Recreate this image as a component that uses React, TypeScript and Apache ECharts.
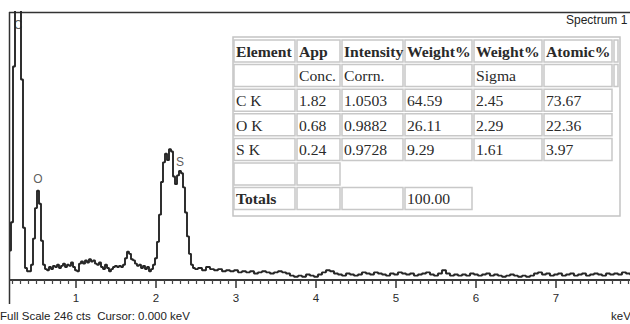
import React, { useEffect, useRef } from "react";
import * as echarts from "echarts";

// ---- spectrum data (counts per channel) ----
const FINE_START_KEV = 0.175;
const FINE_STEP_KEV = 0.025;
const fineCounts = [
  27, 53, 196, 450, 560, 420, 184, 48, 11, 8, 8, 14, 38, 66, 82, 70, 36, 14,
  10, 9, 12, 10, 13, 12, 14, 11, 13, 15, 12, 14, 13, 16, 12, 9, 8, 15, 17, 15, 18, 16, 19, 17, 18, 15, 14, 16, 12, 10, 14, 11, 8, 10, 12, 13, 12, 13, 12, 14, 20, 26, 24, 19, 18, 15, 13, 14, 11, 13, 10, 12, 8, 10, 14,
  20, 35, 60, 90, 108, 116, 110, 120, 118, 95, 88, 96, 100, 98, 85, 62, 40, 24, 14, 11, 10,
];
const COARSE_START_KEV = 2.55;
const COARSE_STEP_KEV = 0.05;
const coarseCounts = [
  11, 9, 12, 10, 9, 10, 8, 9, 8, 9, 7, 8, 7, 8, 6, 7, 8, 7, 6, 7, 8, 7, 6, 4, 3,
  4, 3, 5, 4, 3, 5, 7, 9, 8, 6, 5, 4, 6, 5, 4, 5, 7, 6, 5, 7, 6, 5, 4, 6, 5,
  7, 6, 5, 6, 4, 5, 6, 7, 5, 4, 6, 9, 6, 4, 5, 4, 5, 4, 6, 5, 4, 5, 6, 4, 5,
  4, 3, 4, 5, 4, 3, 4, 3, 4, 6, 7, 5, 6, 4, 5, 6, 4, 5, 6, 4, 5, 6, 4, 5, 6,
  5, 4, 6, 5, 6, 5, 7, 6, 5,
];

const X_MIN = 0.175;
const X_MAX = 7.925;
const FULL_SCALE = 246;
const majorTicks = [1, 2, 3, 4, 5, 6, 7];

const peakLabels = [
  { name: "C", keV: 0.275, cts: 234 },
  { name: "O", keV: 0.525, cts: 93 },
  { name: "S", keV: 2.3, cts: 108 },
];

// ---- quantification table ----
const headerRow1 = ["Element", "App", "Intensity", "Weight%", "Weight%", "Atomic%"];
const headerRow2 = ["", "Conc.", "Corrn.", "", "Sigma", ""];
const elementRows = [
  ["C K", "1.82", "1.0503", "64.59", "2.45", "73.67"],
  ["O K", "0.68", "0.9882", "26.11", "2.29", "22.36"],
  ["S K", "0.24", "0.9728", "9.29", "1.61", "3.97"],
];
const blankRow = ["", ""];
const totalsRow = ["Totals", "", "", "100.00"];

const footerText = "Full Scale 246 cts  Cursor: 0.000 keV";
const unitText = "keV";
const titleText = "Spectrum 1";

const SANS = '"Liberation Sans", Arial, sans-serif';
const SERIF = '"Liberation Serif", "Times New Roman", serif';

function buildTable(): any[] {
  const colX = [234, 297, 342, 405, 474, 544];
  const colW = [61, 43, 61, 67, 68, 68];
  const rowY0 = 40;
  const pitch = 24.6;
  const cellH = 22;
  const els: any[] = [];
  els.push({
    type: "rect",
    shape: { x: 233, y: 37, width: 387, height: 179 },
    style: { fill: "#fff", stroke: "#c4c4c4", lineWidth: 1.5 },
  });
  const rows: { cells: string[]; bold: boolean; sliver: boolean }[] = [
    { cells: headerRow1, bold: true, sliver: true },
    { cells: headerRow2, bold: false, sliver: true },
    ...elementRows.map((r) => ({ cells: r, bold: false, sliver: false })),
    { cells: blankRow, bold: false, sliver: false },
    { cells: totalsRow, bold: false, sliver: false },
  ];
  rows.forEach((row, ri) => {
    const y = rowY0 + ri * pitch;
    row.cells.forEach((txt, ci) => {
      els.push({
        type: "rect",
        shape: { x: colX[ci], y, width: colW[ci], height: cellH },
        style: { fill: "#fff", stroke: "#c8c8c8", lineWidth: 1.5 },
      });
      if (txt) {
        const bold = row.bold || txt === "Totals";
        els.push({
          type: "text",
          x: colX[ci] + 2,
          y: y + cellH / 2 + 1,
          scaleX: 1.12,
          style: {
            text: txt,
            fontFamily: SERIF,
            fontSize: 14,
            fontWeight: bold ? "bold" : "normal",
            fill: "#2a2a2a",
            verticalAlign: "middle",
          },
        });
      }
    });
    if (row.sliver) {
      els.push({
        type: "rect",
        shape: { x: 614, y, width: 4, height: cellH },
        style: { fill: "#fff", stroke: "#c8c8c8", lineWidth: 1.5 },
      });
    }
  });
  return els;
}

export default function App() {
  const ref = useRef<HTMLDivElement>(null);
  useEffect(() => {
    if (!ref.current) return;
    const chart = echarts.init(ref.current, undefined, { renderer: "svg" });
    const spectrum: [number, number][] = [];
    fineCounts.forEach((c, i) => spectrum.push([+(FINE_START_KEV + i * FINE_STEP_KEV).toFixed(4), c]));
    coarseCounts.forEach((c, i) => spectrum.push([+(COARSE_START_KEV + i * COARSE_STEP_KEV).toFixed(4), c]));
    const minorTicks: number[] = [];
    for (let t = 2; t <= 79; t++) {
      if (t % 10 !== 0) minorTicks.push(t / 10);
    }
    chart.setOption({
      animation: false,
      backgroundColor: "#fff",
      grid: { left: 10, top: 12, right: 0, bottom: 44, show: false },
      xAxis: [
        {
          type: "value",
          min: X_MIN,
          max: X_MAX,
          position: "bottom",
          axisLine: { show: true, lineStyle: { color: "#3a3a3a", width: 2 } },
          axisTick: { show: true, customValues: majorTicks, length: 8, lineStyle: { color: "#333", width: 1.5 } },
          axisLabel: {
            show: true,
            customValues: majorTicks,
            margin: 12,
            fontSize: 11.5,
            fontFamily: SANS,
            color: "#2a2a2a",
          },
          splitLine: { show: false },
        },
        {
          type: "value",
          min: X_MIN,
          max: X_MAX,
          position: "bottom",
          axisLine: { show: false },
          axisTick: { show: true, customValues: minorTicks, length: 4, lineStyle: { color: "#444", width: 1.2 } },
          axisLabel: { show: false },
          splitLine: { show: false },
        },
      ],
      yAxis: { type: "value", min: 0, max: FULL_SCALE, show: false, splitLine: { show: false } },
      series: [
        {
          type: "line",
          data: spectrum,
          step: "middle",
          symbol: "none",
          clip: true,
          lineStyle: { color: "#262626", width: 1.9 },
          silent: true,
        },
        {
          type: "scatter",
          data: peakLabels.map((p) => ({ name: p.name, value: [p.keV, p.cts] })),
          symbolSize: 1,
          itemStyle: { color: "rgba(0,0,0,0)" },
          label: {
            show: true,
            position: "inside",
            formatter: "{b}",
            fontSize: 12,
            fontFamily: SANS,
            color: "#333",
          },
          silent: true,
        },
      ],
      graphic: [
        { type: "line", shape: { x1: 9, y1: 12.5, x2: 630, y2: 12.5 }, style: { stroke: "#333", lineWidth: 1.5 } },
        { type: "line", shape: { x1: 9.5, y1: 12, x2: 9.5, y2: 304 }, style: { stroke: "#333", lineWidth: 1.5 } },
        ...buildTable(),
        {
          type: "text",
          x: 566,
          y: 20,
          style: { text: titleText, fontFamily: SANS, fontSize: 12, fill: "#222", verticalAlign: "middle" },
        },
        {
          type: "text",
          x: 0,
          y: 316,
          style: { text: footerText, fontFamily: SANS, fontSize: 11.5, fill: "#222", verticalAlign: "middle" },
        },
        {
          type: "text",
          x: 611,
          y: 316,
          style: { text: unitText, fontFamily: SANS, fontSize: 11.5, fill: "#222", verticalAlign: "middle" },
        },
      ],
    });
    return () => chart.dispose();
  }, []);
  return <div ref={ref} style={{ position: "absolute", left: 0, top: 0, width: 630, height: 324 }} />;
}
